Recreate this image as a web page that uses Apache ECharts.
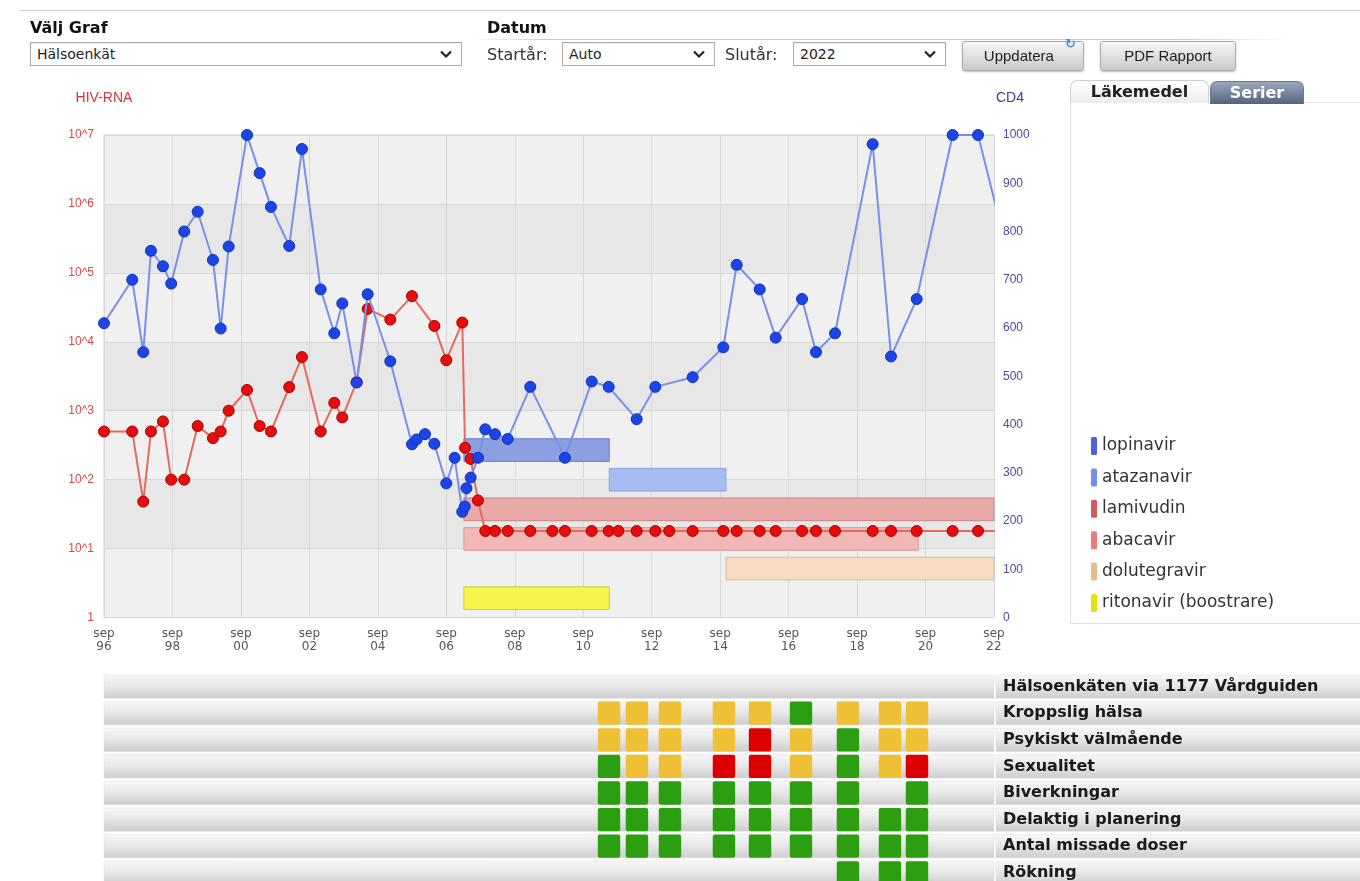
<!DOCTYPE html>
<html><head><meta charset="utf-8">
<script src="https://cdn.jsdelivr.net/npm/echarts@6/dist/echarts.min.js"></script>
<style>
html,body{margin:0;padding:0;background:#fff;}
body{font-family:'DejaVu Sans',Verdana,sans-serif;color:#222;}
#wrap{position:relative;width:1360px;height:881px;overflow:hidden;}
#chart{position:absolute;left:0;top:0;width:1360px;height:881px;z-index:1;}
.ui{position:absolute;z-index:2;}
.lbl{font-size:16px;color:#333;line-height:20px;}
.hd{font-size:16px;font-weight:bold;color:#111;line-height:20px;}
.sel{border:1px solid #a9a9a9;background:#fff;box-shadow:inset 0 1px 1px rgba(0,0,0,.08);font-size:14px;line-height:22px;padding-left:6px;box-sizing:border-box;height:24px;}
.sel svg{position:absolute;right:9px;top:7px;}
.btn{border:1px solid #aaa;border-radius:3px;background:linear-gradient(#f7f7f7,#c9c9c9);font-family:'Liberation Sans',Arial,sans-serif;font-size:15px;line-height:27px;text-align:center;color:#222;box-shadow:0 1px 2px rgba(0,0,0,.25);}
#panel{position:absolute;left:1070px;top:102px;width:290px;height:520px;border-left:1px solid #e2e2e2;border-bottom:1px solid #e2e2e2;border-top:1px solid #e8e8e8;z-index:0;background:#fff;}
.tab{position:absolute;z-index:2;height:22px;border-radius:7px 7px 0 0;font-weight:bold;font-size:16px;line-height:22px;text-align:center;}
</style></head>
<body><div id="wrap">
<div class="ui" style="left:20px;top:10px;width:1340px;height:1px;background:#d0d0d0"></div>
<div class="ui hd" style="left:30px;top:18px">Välj Graf</div>
<div class="ui hd" style="left:487px;top:18px">Datum</div>
<div class="ui" style="left:470px;top:39px;width:820px;height:1px;background:linear-gradient(90deg,rgba(180,180,180,0),#c8c8c8 10%,#c8c8c8 85%,rgba(200,200,200,0))"></div>
<div class="ui sel" style="left:30px;top:42px;width:432px">Hälsoenkät<svg width="12" height="9" viewBox="0 0 12 9"><path d="M1 1.5 L6 6.5 L11 1.5" stroke="#222" stroke-width="2.2" fill="none"/></svg></div>
<div class="ui lbl" style="left:487px;top:45px">Startår:</div>
<div class="ui sel" style="left:562px;top:42px;width:153px">Auto<svg width="12" height="9" viewBox="0 0 12 9"><path d="M1 1.5 L6 6.5 L11 1.5" stroke="#222" stroke-width="2.2" fill="none"/></svg></div>
<div class="ui lbl" style="left:725px;top:45px">Slutår:</div>
<div class="ui sel" style="left:793px;top:42px;width:153px">2022<svg width="12" height="9" viewBox="0 0 12 9"><path d="M1 1.5 L6 6.5 L11 1.5" stroke="#222" stroke-width="2.2" fill="none"/></svg></div>
<div class="ui btn" style="left:962px;top:41px;width:120px;height:28px">Uppdatera&nbsp;&nbsp;</div>
<div class="ui" style="left:1065px;top:36px;font-size:13px;color:#3a8fe0;font-weight:bold">↻</div>
<div class="ui btn" style="left:1100px;top:41px;width:134px;height:28px">PDF Rapport</div>
<div class="tab" style="left:1070px;top:80px;width:137px;border:1px solid #cfcfcf;border-bottom:none;background:linear-gradient(#ffffff,#ececec);color:#222">Läkemedel</div>
<div class="tab" style="left:1210px;top:81px;width:92px;background:linear-gradient(#9aa8bd,#53637f);color:#fff;border:1px solid #6a7890;border-bottom:none">Serier</div>
<div id="panel"></div>
<div id="chart"></div>
</div>
<script>
// ---- Data ----
const cd4Dates = ['1996-09-01','1997-06-28','1997-10-24','1998-01-15','1998-05-21','1998-08-18','1999-01-05','1999-05-26','1999-11-07','2000-01-28','2000-04-22','2000-11-05','2001-03-18','2001-07-17','2002-01-29','2002-06-13','2002-12-30','2003-05-23','2003-08-17','2004-01-18','2004-05-14','2005-01-12','2005-08-30','2005-10-19','2006-01-17','2006-04-25','2006-09-01','2006-11-29','2007-02-19','2007-03-15','2007-04-03','2007-05-17','2007-08-04','2007-10-21','2008-02-03','2008-06-17','2009-02-14','2010-02-19','2010-11-30','2011-05-29','2012-03-23','2012-10-09','2013-11-12','2014-10-04','2015-02-25','2015-10-27','2016-04-15','2017-01-22','2017-06-19','2018-01-09','2019-02-15','2019-08-28','2020-05-28','2021-06-16','2022-03-13','2022-12-01'];
const cd4Values = [610,700,550,760,728,692,800,841,741,599,769,1000,921,851,770,971,680,589,651,487,670,531,359,369,380,360,278,331,219,230,268,290,331,390,380,370,478,331,489,478,411,478,498,560,731,680,580,660,550,589,981,541,660,1000,1000,797];

const rnaDates = ['1996-09-01','1997-06-28','1997-10-24','1998-01-15','1998-05-21','1998-08-18','1999-01-05','1999-05-26','1999-11-07','2000-01-28','2000-04-22','2000-11-05','2001-03-18','2001-07-17','2002-01-29','2002-06-13','2002-12-30','2003-05-23','2003-08-17','2004-01-18','2004-05-14','2005-01-12','2005-08-30','2006-04-25','2006-09-01','2007-02-19','2007-03-18','2007-05-17','2007-08-04','2007-10-21','2008-02-03','2008-06-17','2009-02-14','2009-10-06','2010-02-19','2010-11-30','2011-05-29','2011-09-10','2012-03-23','2012-10-09','2013-03-06','2013-11-12','2014-10-04','2015-02-25','2015-10-27','2016-04-15','2017-01-22','2017-06-19','2018-01-09','2019-02-15','2019-08-28','2020-05-28','2021-06-16','2022-03-13','2022-12-01'];
const rnaValues = [500,500,48,500,700,100,100,600,400,500,1000,2000,600,500,2200,6000,500,1300,800,2600,30000,21000,46000,17000,5400,19000,290,200,50,18,18,18,18,18,18,18,18,18,18,18,18,18,18,18,18,18,18,18,18,18,18,18,18,18,18];

const drugNames  = ['lopinavir','atazanavir','lamivudin','abacavir','dolutegravir','ritonavir (boostrare)'];
const drugStarts = ['2007-03-06','2011-06-05','2007-03-06','2007-03-06','2014-11-02','2007-03-06'];
const drugEnds   = ['2011-06-05','2014-11-02','2023-06-01','2020-06-15','2023-06-01','2011-06-05'];

const surveyRows = ['Hälsoenkäten via 1177 Vårdguiden','Kroppslig hälsa','Psykiskt välmående','Sexualitet','Biverkningar','Delaktig i planering','Antal missade doser','Rökning'];
const surveyDates = ['2011-06-02','2012-03-26','2013-03-13','2014-10-11','2015-10-30','2017-01-11','2018-05-25','2019-08-17','2020-06-01'];
// Y = gul, G = grön, R = röd, - = inget svar
const ansKroppslig = ['Y','Y','Y','Y','Y','G','Y','Y','Y'];
const ansPsykiskt  = ['Y','Y','Y','Y','R','Y','G','Y','Y'];
const ansSexualitet= ['G','Y','Y','R','R','Y','G','Y','R'];
const ansBiverkn   = ['G','G','G','G','G','G','G','-','G'];
const ansDelaktig  = ['G','G','G','G','G','G','G','G','G'];
const ansMissade   = ['G','G','G','G','G','G','G','G','G'];
const ansRokning   = ['-','-','-','-','-','-','G','G','G'];

const xTickStart = 0, xTickEnd = 312, xTickStep = 24; // months since sep 1996

// ---- Helpers ----
function toM(s){const p=s.split('-').map(Number);return (p[0]-1996)*12+(p[1]-9)+(p[2]-1)/30;}

const drugFill   = ['#8c9fe2','#a6bbf3','#e9a9a9','#f3b7b7','#f8dcc1','#f6f64a'];
const drugBorder = ['#6e80cf','#8ea4e2','#cc8585','#d99a9a','#dcbb9a','#c9c94c'];
const drugIcon   = ['#4d63d6','#7090ea','#d65858','#ee7b7b','#eab98a','#e4e40c'];
const ansColor = {Y:'#efc035',G:'#2b9f0f',R:'#dd0000'};

const chart = echarts.init(document.getElementById('chart'), null, {renderer:'canvas'});

const drugSeries = drugNames.map((name,i)=>({
  name, type:'custom', xAxisIndex:0, yAxisIndex:1, z:2,
  encode:{x:[0,1], y:2},
  data:[[toM(drugStarts[i]), toM(drugEnds[i]), 0]],
  renderItem:(params, api)=>{
    const center = 347 - 61.4*i, half = 23.5;
    const a = api.coord([api.value(0), center+half]);
    const b = api.coord([api.value(1), center-half]);
    const cs = params.coordSys;
    const shape = echarts.graphic.clipRectByRect({x:a[0], y:a[1], width:b[0]-a[0], height:b[1]-a[1]},
      {x:cs.x, y:cs.y, width:cs.width, height:cs.height});
    return shape && {type:'rect', shape, style:{fill:drugFill[i], stroke:drugBorder[i], lineWidth:1}};
  }
}));

const answerRows = [null, ansKroppslig, ansPsykiskt, ansSexualitet, ansBiverkn, ansDelaktig, ansMissade, ansRokning];
const squareData = [];
answerRows.forEach((arr,r)=>{ if(!arr) return; arr.forEach((c,j)=>{ if(c!=='-') squareData.push([toM(surveyDates[j]), r, c]); }); });

const rowGrad = new echarts.graphic.LinearGradient(0,0,0,1,[{offset:0,color:'#f8f8f8'},{offset:0.45,color:'#e8e8e8'},{offset:1,color:'#cdcdcd'}]);

const option = {
  animation:false,
  grid:[
    {left:104, top:135, width:890, height:482.5, show:true, backgroundColor:'#efefef', borderColor:'#d2d2d2', borderWidth:1, outerBoundsMode:'none'},
    {left:104, top:673.3, width:890, height:212.8, show:false, outerBoundsMode:'none'}
  ],
  legend:{
    orient:'vertical', left:1086, top:432, itemGap:13.4, itemWidth:6, itemHeight:18,
    selectedMode:false, icon:'roundRect',
    textStyle:{fontSize:17, fontFamily:'DejaVu Sans', color:'#333', padding:[4,0,0,0]},
    data: drugNames.map((n,i)=>({name:n, itemStyle:{color:drugIcon[i], borderWidth:0}}))
  },
  xAxis:[
    {type:'value', gridIndex:0, min:xTickStart, max:xTickEnd, interval:xTickStep,
     axisLine:{show:false}, axisTick:{show:false},
     splitLine:{show:true, lineStyle:{color:'#d8d8d8', width:1}},
     axisLabel:{margin:10, color:'#555', fontSize:12, fontFamily:'DejaVu Sans', lineHeight:13,
       formatter:v=>{const y=1996+Math.round(v/12); return 'sep\n'+String(y%100).padStart(2,'0');}}},
    {type:'value', gridIndex:1, min:xTickStart, max:xTickEnd, show:false}
  ],
  yAxis:[
    {type:'log', gridIndex:0, min:1, max:1e7, logBase:10, position:'left',
     name:'HIV-RNA', nameLocation:'end', nameGap:30,
     nameTextStyle:{color:'#d8333a', fontSize:14, fontFamily:'Liberation Sans', align:'center'},
     axisLine:{show:false}, axisTick:{show:false},
     axisLabel:{color:'#d84848', fontSize:12, fontFamily:'Liberation Sans', margin:10,
       formatter:v=>{const e=Math.round(Math.log10(v)); return e===0?'1':'10^'+e;}},
     splitLine:{show:true, lineStyle:{color:'#d6d6d6'}},
     splitArea:{show:true, areaStyle:{color:['#f0f0f0','#e7e7e7']}}},
    {type:'value', gridIndex:0, min:0, max:1000, interval:100, position:'right',
     name:'CD4', nameLocation:'end', nameGap:30,
     nameTextStyle:{color:'#3d3da8', fontSize:14, fontFamily:'Liberation Sans', align:'left', padding:[0,0,0,2]},
     axisLine:{show:false}, axisTick:{show:false}, splitLine:{show:false},
     axisLabel:{color:'#4b4b9e', fontSize:12, fontFamily:'Liberation Sans', margin:9, formatter:v=>String(v)}},
    {type:'category', gridIndex:1, data:surveyRows, inverse:true, position:'right', z:20,
     axisLine:{show:false}, axisTick:{show:false}, splitLine:{show:false},
     axisLabel:{align:'left', margin:9, fontSize:16, fontWeight:'bold', fontFamily:'DejaVu Sans', color:'#1a1a1a'}}
  ],
  series:[
    ...drugSeries,
    {name:'HIV-RNA', type:'line', xAxisIndex:0, yAxisIndex:0, z:5, clip:true,
     data: rnaDates.map((d,i)=>[toM(d), rnaValues[i]]),
     symbol:'circle', symbolSize:11,
     itemStyle:{color:'#e80c0c', borderColor:'#a40000', borderWidth:1},
     lineStyle:{color:'#e56a5c', width:2}},
    {name:'CD4', type:'line', xAxisIndex:0, yAxisIndex:1, z:6, clip:true,
     data: cd4Dates.map((d,i)=>[toM(d), cd4Values[i]]),
     symbol:'circle', symbolSize:11,
     itemStyle:{color:'#1c45e8', borderColor:'#1232b4', borderWidth:1},
     lineStyle:{color:'#7890ea', width:2}},
    {name:'rader', type:'custom', xAxisIndex:1, yAxisIndex:2, z:1, silent:true,
     encode:{x:0, y:1},
     data: surveyRows.map((_,r)=>[0, r]),
     renderItem:(params, api)=>{
       const cs = params.coordSys;
       const c = api.coord([0, api.value(1)]);
       const bh = api.size([0,1])[1];
       const h = bh - 3.3;
       const y = c[1] - h/2;
       const xr = cs.x + cs.width + 2;
       return {type:'group', children:[
         {type:'rect', shape:{x:cs.x, y, width:cs.width, height:h}, style:{fill:rowGrad, stroke:'#dcdcdc', lineWidth:0.5}},
         {type:'rect', shape:{x:xr, y, width:api.getWidth()-xr+2, height:h}, style:{fill:rowGrad, stroke:'#dcdcdc', lineWidth:0.5}}
       ]};
     }},
    {name:'svar', type:'custom', xAxisIndex:1, yAxisIndex:2, z:3, silent:true,
     encode:{x:0, y:1},
     data: squareData,
     renderItem:(params, api)=>{
       const c = api.coord([api.value(0), api.value(1)]);
       const h = api.size([0,1])[1] - 3.3;
       const code = squareData[params.dataIndex][2];
       return {type:'rect', shape:{x:c[0]-11.2, y:c[1]-h/2, width:22.4, height:h, r:2}, style:{fill:ansColor[code]}};
     }}
  ]
};
chart.setOption(option);
</script>
</body></html>
